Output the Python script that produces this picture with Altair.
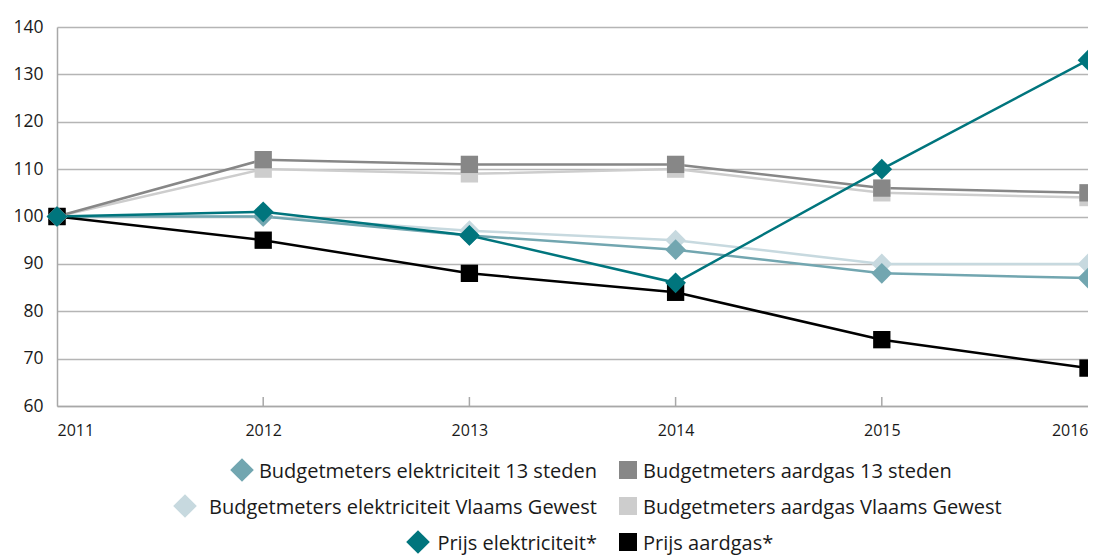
import altair as alt
import pandas as pd

# ---- data ----
years = [2011, 2012, 2013, 2014, 2015, 2016]

elek_vg = [100, 100, 97, 95, 90, 90]
elek_13 = [100, 100, 96, 93, 88, 87]
gas_vg = [100, 110, 109, 110, 105, 104]
gas_13 = [100, 112, 111, 111, 106, 105]
prijs_gas = [100, 95, 88, 84, 74, 68]
prijs_elek = [100, 101, 96, 86, 110, 133]

names = [
    "Budgetmeters elektriciteit Vlaams Gewest",
    "Budgetmeters elektriciteit 13 steden",
    "Budgetmeters aardgas Vlaams Gewest",
    "Budgetmeters aardgas 13 steden",
    "Prijs aardgas*",
    "Prijs elektriciteit*",
]
values = [elek_vg, elek_13, gas_vg, gas_13, prijs_gas, prijs_elek]
colors = ["#c7d9df", "#72a6b0", "#cdcdcd", "#878787", "#000000", "#00757d"]
shapes = ["diamond", "diamond", "square", "square", "square", "diamond"]

y_ticks = [60, 70, 80, 90, 100, 110, 120, 130, 140]
inner_tick_years = [2012, 2013, 2014, 2015]

# legend layout (reading order of the reference legend)
legend_left = ["Budgetmeters elektriciteit 13 steden",
               "Budgetmeters elektriciteit Vlaams Gewest",
               "Prijs elektriciteit*"]
legend_right = ["Budgetmeters aardgas 13 steden",
                "Budgetmeters aardgas Vlaams Gewest",
                "Prijs aardgas*"]

FONT = "Open Sans"
W, H = 1031, 379

rows = []
for n, vals in zip(names, values):
    for yr, v in zip(years, vals):
        rows.append({"series": n, "year": yr, "value": v, "order": names.index(n)})
df = pd.DataFrame(rows)

color_scale = alt.Scale(domain=names, range=colors)
shape_scale = alt.Scale(domain=names, range=shapes)

x_enc = alt.X(
    "year:Q",
    scale=alt.Scale(domain=[2011, 2016], nice=False, zero=False),
    axis=alt.Axis(
        values=years, format="d", title=None, grid=False, ticks=False,
        domainColor="#a8a8a8", domainWidth=1.5,
        labelFont=FONT, labelFontSize=16, labelColor="#1a1a1a", labelPadding=16,
        labelAlign={"condition": [
            {"test": "datum.value == 2011", "value": "left"},
            {"test": "datum.value == 2016", "value": "right"}],
            "value": "center"},
    ),
)
y_enc = alt.Y(
    "value:Q",
    scale=alt.Scale(domain=[60, 140], nice=False, zero=False),
    axis=alt.Axis(
        values=y_ticks, title=None, grid=True, gridColor="#b5b5b5", gridWidth=1.5,
        ticks=False, domainColor="#a8a8a8", domainWidth=1.5,
        labelFont=FONT, labelFontSize=17.5, labelColor="#1a1a1a", labelPadding=14,
    ),
)

base = alt.Chart(df)

lines = base.mark_line(strokeWidth=2.5).encode(
    x=x_enc, y=y_enc,
    color=alt.Color("series:N", scale=color_scale, legend=None),
    detail="series:N",
    order="year:Q",
)

diamonds = base.transform_filter(
    alt.FieldOneOfPredicate(field="series", oneOf=[n for n, s in zip(names, shapes) if s == "diamond"])
).mark_point(filled=True, opacity=1, size=430, shape="diamond").encode(
    x="year:Q", y="value:Q",
    color=alt.Color("series:N", scale=color_scale, legend=None),
)
squares = base.transform_filter(
    alt.FieldOneOfPredicate(field="series", oneOf=[n for n, s in zip(names, shapes) if s == "square"])
).mark_point(filled=True, opacity=1, size=300, shape="square").encode(
    x="year:Q", y="value:Q",
    color=alt.Color("series:N", scale=color_scale, legend=None),
)

ticks = alt.Chart(pd.DataFrame({"year": inner_tick_years})).mark_rule(
    color="#a8a8a8", strokeWidth=1.5
).encode(x="year:Q", y=alt.value(H - 9), y2=alt.value(H))

# ---- custom legend (two columns, left column right-aligned) ----
row_y = [443, 479, 515]
left_text_right = 540
left_sym_x = [185, 128, 361]
right_sym_x = 571
right_text_left = 586

leg_rows = []
for i in range(3):
    leg_rows.append({"series": legend_left[i], "tx": left_text_right, "sx": left_sym_x[i],
                     "ty": row_y[i], "col": "L"})
    leg_rows.append({"series": legend_right[i], "tx": right_text_left, "sx": right_sym_x,
                     "ty": row_y[i], "col": "R"})
leg = pd.DataFrame(leg_rows)
leg["shape"] = leg["series"].map(dict(zip(names, shapes)))
leg_base = alt.Chart(leg)

leg_diam = leg_base.transform_filter("datum.shape == 'diamond'").mark_point(
    filled=True, opacity=1, size=560, shape="diamond"
).encode(
    x=alt.X("sx:Q", scale=None), y=alt.Y("ty:Q", scale=None),
    color=alt.Color("series:N", scale=color_scale, legend=None),
)
leg_sq = leg_base.transform_filter("datum.shape == 'square'").mark_point(
    filled=True, opacity=1, size=324, shape="square"
).encode(
    x=alt.X("sx:Q", scale=None), y=alt.Y("ty:Q", scale=None),
    color=alt.Color("series:N", scale=color_scale, legend=None),
)
leg_text_l = leg_base.transform_filter("datum.col == 'L'").mark_text(
    align="right", baseline="middle", font=FONT, fontSize=20, color="#1a1a1a", dy=2
).encode(x=alt.X("tx:Q", scale=None), y=alt.Y("ty:Q", scale=None), text="series:N")
leg_text_r = leg_base.transform_filter("datum.col == 'R'").mark_text(
    align="left", baseline="middle", font=FONT, fontSize=20, color="#1a1a1a", dy=2
).encode(x=alt.X("tx:Q", scale=None), y=alt.Y("ty:Q", scale=None), text="series:N")

chart = alt.layer(
    ticks, lines, squares, diamonds, leg_sq, leg_diam, leg_text_l, leg_text_r
).properties(
    width=W, height=H,
    autosize=alt.AutoSizeParams(type="none"),
    padding={"left": 49, "top": 19, "right": 0, "bottom": 149},
    background="white",
).configure_view(stroke=None)

chart.save("out.html", embed_options={"renderer": "svg", "actions": False})
